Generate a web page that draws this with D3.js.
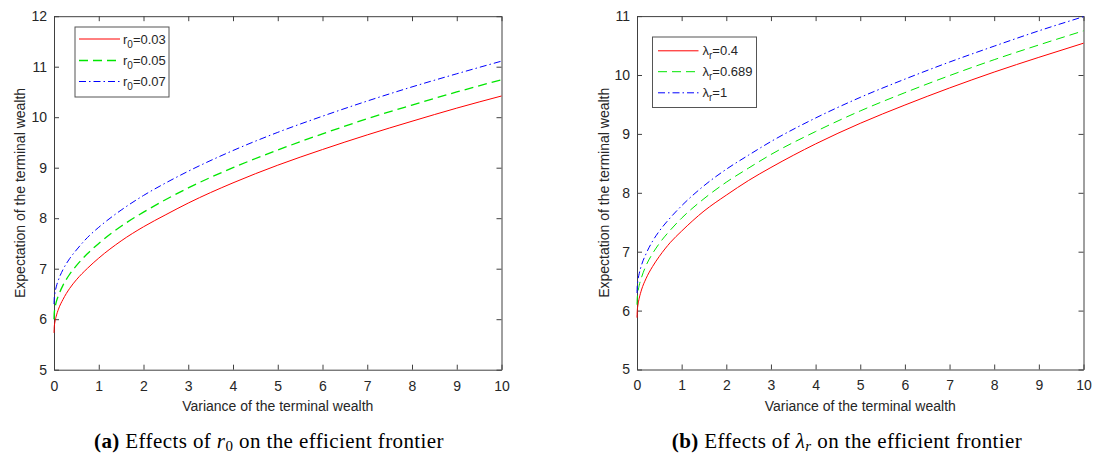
<!DOCTYPE html>
<html>
<head>
<meta charset="utf-8">
<script src="https://cdn.jsdelivr.net/npm/d3@7"></script>
<style>
  body { margin: 0; background: #fff; }
  svg { display: block; }
</style>
</head>
<body>
<script>
//-----------------Data----------------

const variance = [0, 0.005, 0.02, 0.05, 0.1, 0.2, 0.35, 0.5, 0.75, 1, 1.5, 2, 2.5, 3, 4, 5, 6, 7, 8, 9, 10];

// panel (a): r0 = 0.03 / 0.05 / 0.07
const r0Low  = [5.73, 5.84, 5.94, 6.06, 6.20, 6.39, 6.61, 6.78, 7.01, 7.21, 7.55, 7.83, 8.07, 8.30, 8.70, 9.05, 9.36, 9.65, 9.92, 10.18, 10.42];
const r0Mid  = [6.00, 6.11, 6.21, 6.34, 6.47, 6.67, 6.89, 7.06, 7.30, 7.50, 7.84, 8.12, 8.37, 8.60, 9.00, 9.35, 9.67, 9.97, 10.24, 10.50, 10.74];
const r0High = [6.30, 6.41, 6.51, 6.64, 6.78, 6.98, 7.20, 7.37, 7.62, 7.82, 8.16, 8.45, 8.70, 8.93, 9.34, 9.70, 10.02, 10.32, 10.60, 10.86, 11.11];

// panel (b): lambda_r = 0.4 / 0.689 / 1
const lamLow  = [5.88, 5.98, 6.09, 6.21, 6.35, 6.54, 6.75, 6.92, 7.16, 7.35, 7.69, 7.96, 8.21, 8.43, 8.83, 9.18, 9.49, 9.78, 10.05, 10.30, 10.54];
const lamMid  = [6.10, 6.20, 6.31, 6.43, 6.56, 6.76, 6.97, 7.14, 7.37, 7.57, 7.90, 8.18, 8.42, 8.65, 9.04, 9.39, 9.70, 9.99, 10.26, 10.51, 10.75];
const lamHigh = [6.30, 6.40, 6.51, 6.63, 6.77, 6.96, 7.18, 7.35, 7.58, 7.78, 8.12, 8.40, 8.64, 8.87, 9.27, 9.62, 9.93, 10.22, 10.49, 10.75, 10.99];

const r0Labels = ["0.03", "0.05", "0.07"];
const lamLabels = ["0.4", "0.689", "1"];

const xTicks = [0, 1, 2, 3, 4, 5, 6, 7, 8, 9, 10];
const yTicksA = [5, 6, 7, 8, 9, 10, 11, 12];
const yTicksB = [5, 6, 7, 8, 9, 10, 11];

//-----------------Main svg------------------

const width = 1093;
const height = 457;
const sans = "'Liberation Sans', Arial, Helvetica, sans-serif";
const serif = "'Liberation Serif', 'Times New Roman', serif";
const axisColor = "#404040";
const textColor = "#262626";

const svg = d3.select("body").append("svg").attr("width", width).attr("height", height);

const styles = [
  { color: "#ff0000", dash: null },
  { color: "#00e600", dash: "9,5" },
  { color: "#0000ff", dash: "7,3,1.5,3" }
];

function drawPanel(p) {
  const g = svg.append("g");

  const x = d3.scaleLinear().domain([0, 10]).range([p.left, p.right]);
  const y = d3.scaleLinear().domain([p.yTicks[0], p.yTicks[p.yTicks.length - 1]]).range([p.bottom, p.top]);
  const fmt = d3.format("d");

  // ----------------------axes (box, inward ticks)--------------------

  const styleAxis = (sel) => {
    sel.attr("color", axisColor).attr("font-family", sans).attr("font-size", 14);
    sel.selectAll("text").attr("fill", textColor);
  };

  g.append("g")
    .attr("transform", "translate(0," + p.bottom + ")")
    .call(d3.axisBottom(x).tickValues(xTicks).tickFormat(fmt).tickSizeInner(-5).tickSizeOuter(0).tickPadding(11))
    .call(styleAxis);

  g.append("g")
    .attr("transform", "translate(0," + p.top + ")")
    .call(d3.axisTop(x).tickValues(xTicks).tickSizeInner(-5).tickSizeOuter(0).tickFormat(""))
    .call(styleAxis);

  g.append("g")
    .attr("transform", "translate(" + p.left + ",0)")
    .call(d3.axisLeft(y).tickValues(p.yTicks).tickFormat(fmt).tickSizeInner(-5).tickSizeOuter(0).tickPadding(7))
    .call(styleAxis);

  g.append("g")
    .attr("transform", "translate(" + p.right + ",0)")
    .call(d3.axisRight(y).tickValues(p.yTicks).tickSizeInner(-5).tickSizeOuter(0).tickFormat(""))
    .call(styleAxis);

  g.append("text")
    .text("Variance of the terminal wealth")
    .attr("x", (p.left + p.right) / 2)
    .attr("y", p.bottom + 41)
    .attr("text-anchor", "middle")
    .attr("font-family", sans)
    .attr("font-size", 14)
    .attr("fill", textColor);

  g.append("text")
    .text("Expectation of the terminal wealth")
    .attr("transform", "translate(" + p.ylabelX + "," + (p.top + p.bottom) / 2 + ") rotate(-90)")
    .attr("text-anchor", "middle")
    .attr("font-family", sans)
    .attr("font-size", 14)
    .attr("fill", textColor);

  // ----------------------curves--------------------

  const line = d3.line()
    .x((d) => x(d[0]))
    .y((d) => y(d[1]))
    .curve(d3.curveMonotoneX);

  p.series.forEach((s, i) => {
    g.append("path")
      .datum(variance.map((v, j) => [v, s[j]]))
      .attr("d", line)
      .attr("fill", "none")
      .attr("stroke", styles[i].color)
      .attr("stroke-width", i === 1 ? p.greenWidth : 1)
      .attr("stroke-dasharray", styles[i].dash);
  });

  //-----------Legend--------------

  const L = p.legend;
  const legend = g.append("g");
  legend.append("rect")
    .attr("x", L.x).attr("y", L.y)
    .attr("width", L.w).attr("height", L.h)
    .attr("fill", "#fff")
    .attr("stroke", "#555")
    .attr("stroke-width", 1);

  p.labels.forEach((lab, i) => {
    const ry = L.rowY[i];
    legend.append("line")
      .attr("x1", L.lineX[0]).attr("x2", L.lineX[1])
      .attr("y1", ry).attr("y2", ry)
      .attr("stroke", styles[i].color)
      .attr("stroke-width", i === 1 ? p.greenWidth : 1)
      .attr("stroke-dasharray", styles[i].dash);

    const t = legend.append("text")
      .attr("x", L.textX)
      .attr("y", ry + 4.5)
      .attr("font-family", sans)
      .attr("font-size", 13)
      .attr("fill", textColor);
    t.append("tspan").text(p.symbol);
    t.append("tspan").text(p.sub).attr("font-size", 10).attr("dy", 4);
    t.append("tspan").text("=" + lab).attr("dy", -4);
  });

  //------------Caption--------------

  const cap = svg.append("text")
    .attr("x", p.captionX)
    .attr("y", 448)
    .attr("text-anchor", "middle")
    .attr("font-family", serif)
    .attr("font-size", 21)
    .attr("letter-spacing", 0.4)
    .attr("fill", "#000");
  cap.append("tspan").text("(" + p.letter + ")").attr("font-weight", "bold");
  cap.append("tspan").text(" Effects of ");
  cap.append("tspan").text(p.capSymbol).attr("font-style", "italic");
  cap.append("tspan").text(p.capSub).attr("font-style", p.capSubItalic ? "italic" : "normal").attr("font-size", 15).attr("dy", 3);
  cap.append("tspan").text(" on the efficient frontier").attr("dy", -3);
}

drawPanel({
  left: 54, right: 501.5, top: 16.2, bottom: 369.7,
  yTicks: yTicksA,
  ylabelX: 25,
  series: [r0Low, r0Mid, r0High],
  greenWidth: 1.3,
  labels: r0Labels,
  symbol: "r", sub: "0",
  legend: { x: 75, y: 27, w: 94, h: 70, rowY: [39, 60.5, 81.5], lineX: [79, 120], textX: 123 },
  letter: "a", capSymbol: "r", capSub: "0", capSubItalic: false,
  captionX: 269
});

drawPanel({
  left: 637, right: 1083.5, top: 16.1, bottom: 369.5,
  yTicks: yTicksB,
  ylabelX: 609,
  series: [lamLow, lamMid, lamHigh],
  greenWidth: 1,
  labels: lamLabels,
  symbol: "λ", sub: "r",
  legend: { x: 652.5, y: 37, w: 104, h: 70.5, rowY: [50.8, 71.7, 92.8], lineX: [658, 698.5], textX: 702.5 },
  letter: "b", capSymbol: "λ", capSub: "r", capSubItalic: true,
  captionX: 847
});
</script>
</body>
</html>
